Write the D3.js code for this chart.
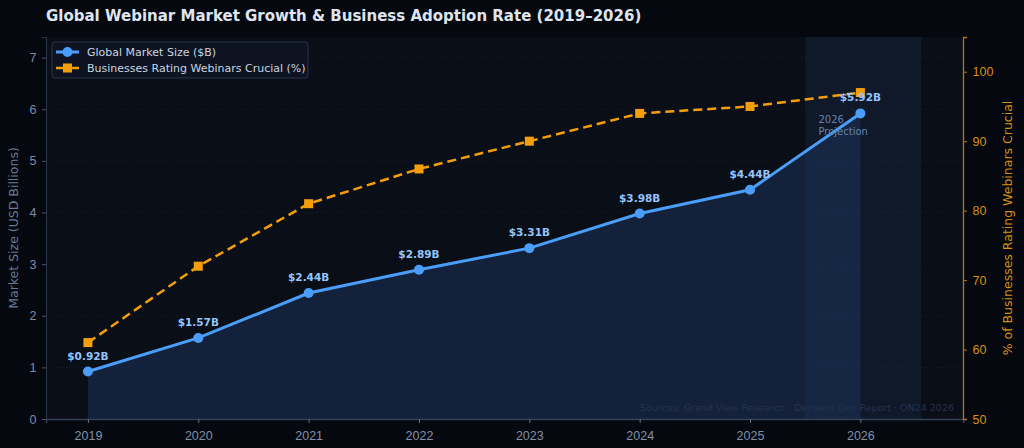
<!DOCTYPE html>
<html>
<head>
<script src="https://cdn.jsdelivr.net/npm/d3@7"></script>
<style>
  body { margin: 0; background: #05080f; }
  svg { display: block; font-family: "DejaVu Sans", sans-serif; }
</style>
</head>
<body>
<script>
// data
const years = [2019, 2020, 2021, 2022, 2023, 2024, 2025, 2026];
const marketSize = [0.92, 1.57, 2.44, 2.89, 3.31, 3.98, 4.44, 5.92];
const crucialPct = [61, 72, 81, 86, 90, 94, 95, 97];
const leftTicks = [0, 1, 2, 3, 4, 5, 6, 7];
const rightTicks = [50, 60, 70, 80, 90, 100];

const W = 1024, H = 448;
const margin = { top: 37, right: 61, bottom: 29, left: 46 };
const w = W - margin.left - margin.right;
const h = H - margin.top - margin.bottom;

const svg = d3.select("body").append("svg")
  .attr("width", W).attr("height", H);

svg.append("rect").attr("width", W).attr("height", H).attr("fill", "#05080f");

svg.append("text")
  .attr("x", 46).attr("y", 21)
  .attr("fill", "#dfe5ee")
  .attr("font-size", 15).attr("font-weight", "bold")
  .text("Global Webinar Market Growth & Business Adoption Rate (2019\u20132026)");

const g = svg.append("g")
  .attr("transform", "translate(" + margin.left + "," + margin.top + ")");

const x = d3.scaleLinear().domain([2018.62, 2026.93]).range([0, w]);
const y = d3.scaleLinear().domain([0, 7.4]).range([h, 0]);
const y2 = d3.scaleLinear().domain([50, 105]).range([h, 0]);

// plot background
g.append("rect").attr("width", w).attr("height", h).attr("fill", "#0a0e17");

// grid
g.selectAll(".grid").data(leftTicks).enter().append("line")
  .attr("x1", 0).attr("x2", w)
  .attr("y1", d => y(d)).attr("y2", d => y(d))
  .attr("stroke", "#151c29").attr("stroke-width", 0.8)
  .attr("stroke-dasharray", "2,3");

// projection span
g.append("rect")
  .attr("x", x(2025.5)).attr("width", x(2026.55) - x(2025.5))
  .attr("y", 0).attr("height", h)
  .attr("fill", "#1e3a5f").attr("opacity", 0.25);

const pts = years.map((yr, i) => ({ yr: yr, v: marketSize[i], p: crucialPct[i] }));

// area
g.append("path").datum(pts)
  .attr("d", d3.area().x(d => x(d.yr)).y0(h).y1(d => y(d.v)))
  .attr("fill", "#1e3a66").attr("opacity", 0.45);

// axes
const xAxis = d3.axisBottom(x).tickValues(years).tickFormat(d3.format("d")).tickSize(4);
const gx = g.append("g").attr("transform", "translate(0," + h + ")").call(xAxis);
gx.select(".domain").attr("stroke", "#334155").attr("stroke-width", 1.5);
gx.selectAll(".tick line").attr("stroke", "#64748b");
gx.selectAll("text").attr("fill", "#8191aa").attr("font-size", 12.5).attr("dy", "1.1em");

const gy = g.append("g").call(d3.axisLeft(y).tickValues(leftTicks).tickSize(4));
gy.select(".domain").attr("stroke", "#2a3548");
gy.selectAll(".tick line").attr("stroke", "#475569");
gy.selectAll("text").attr("fill", "#7d8ba3").attr("font-size", 12.5).attr("dx", "-0.2em");

const gy2 = g.append("g").attr("transform", "translate(" + w + ",0)")
  .call(d3.axisRight(y2).tickValues(rightTicks).tickSize(4));
gy2.select(".domain").attr("stroke", "#b8760e").attr("stroke-width", 1.3);
gy2.selectAll(".tick line").attr("stroke", "#b8760e");
gy2.selectAll("text").attr("fill", "#d9900f").attr("font-size", 12.5).attr("dx", "0.2em");

// axis titles
svg.append("text")
  .attr("transform", "translate(18," + (margin.top + h / 2) + ") rotate(-90)")
  .attr("text-anchor", "middle").attr("fill", "#6b7a93").attr("font-size", 12.5)
  .text("Market Size (USD Billions)");
svg.append("text")
  .attr("transform", "translate(1012," + (margin.top + h / 2) + ") rotate(-90)")
  .attr("text-anchor", "middle").attr("fill", "#d9900f").attr("font-size", 12.5)
  .text("% of Businesses Rating Webinars Crucial");

// percentage line
g.append("path").datum(pts)
  .attr("d", d3.line().x(d => x(d.yr)).y(d => y2(d.p)))
  .attr("fill", "none").attr("stroke", "#f59e0b").attr("stroke-width", 2.5)
  .attr("stroke-dasharray", "9,5");
g.selectAll(".sq").data(pts).enter().append("rect")
  .attr("x", d => x(d.yr) - 4.5).attr("y", d => y2(d.p) - 4.5)
  .attr("width", 9).attr("height", 9).attr("fill", "#f59e0b");

// market line
g.append("path").datum(pts)
  .attr("d", d3.line().x(d => x(d.yr)).y(d => y(d.v)))
  .attr("fill", "none").attr("stroke", "#4a9df8").attr("stroke-width", 3);
g.selectAll(".dot").data(pts).enter().append("circle")
  .attr("cx", d => x(d.yr)).attr("cy", d => y(d.v)).attr("r", 5)
  .attr("fill", "#4a9df8");

g.selectAll(".lbl").data(pts).enter().append("text")
  .attr("x", d => x(d.yr)).attr("y", d => y(d.v) - 12)
  .attr("text-anchor", "middle").attr("fill", "#93c5fd")
  .attr("font-size", 10.5).attr("font-weight", "bold")
  .text(d => "$" + d.v.toFixed(2) + "B");

// projection note
const note = g.append("text").attr("fill", "#6482ad").attr("font-size", 10);
note.append("tspan").attr("x", x(2025.62)).attr("y", y(5.92) + 10).text("2026");
note.append("tspan").attr("x", x(2025.62)).attr("y", y(5.92) + 22).text("Projection");

// sources
g.append("text")
  .attr("x", w - 9).attr("y", h - 8)
  .attr("text-anchor", "end").attr("fill", "#27324a").attr("font-size", 9.5)
  .text("Sources: Grand View Research \u00b7 Demand Gen Report \u00b7 ON24 2026");

// legend
const lg = svg.append("g").attr("transform", "translate(52,42)");
lg.append("rect").attr("width", 256).attr("height", 36).attr("rx", 3)
  .attr("fill", "#0d1320").attr("stroke", "#2a3548");
lg.append("line").attr("x1", 4).attr("x2", 27).attr("y1", 10).attr("y2", 10)
  .attr("stroke", "#4a9df8").attr("stroke-width", 3);
lg.append("circle").attr("cx", 15.5).attr("cy", 10).attr("r", 5).attr("fill", "#4a9df8");
lg.append("line").attr("x1", 4).attr("x2", 27).attr("y1", 26).attr("y2", 26)
  .attr("stroke", "#f59e0b").attr("stroke-width", 2.5);
lg.append("rect").attr("x", 11).attr("y", 21.5).attr("width", 9).attr("height", 9).attr("fill", "#f59e0b");
lg.append("text").attr("x", 35).attr("y", 14).attr("fill", "#cbd5e1").attr("font-size", 11)
  .text("Global Market Size ($B)");
lg.append("text").attr("x", 35).attr("y", 30).attr("fill", "#cbd5e1").attr("font-size", 11)
  .text("Businesses Rating Webinars Crucial (%)");
</script>
</body>
</html>
